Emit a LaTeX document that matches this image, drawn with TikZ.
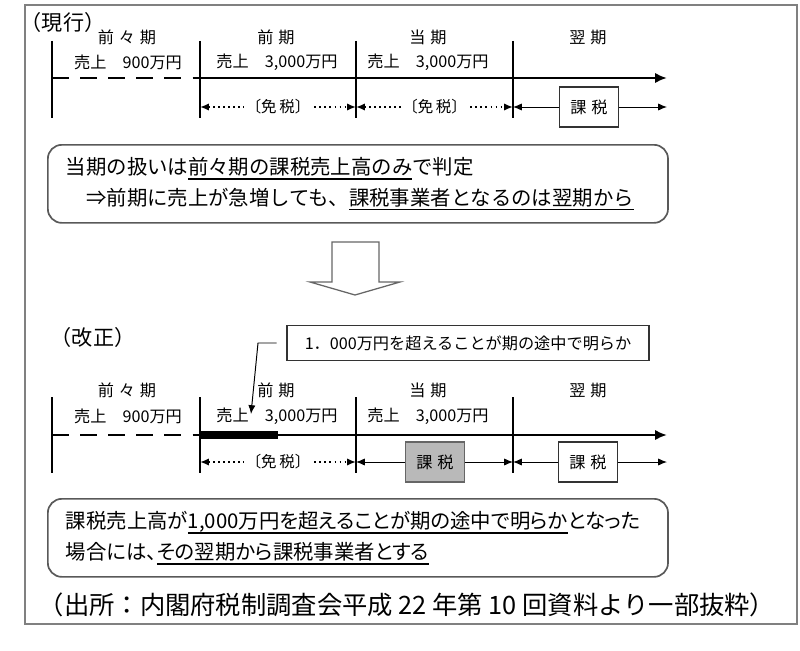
\documentclass[tikz,border=0pt]{standalone}
\usepackage{fontspec}
\setmainfont{Noto Sans CJK JP}
\newfontfamily\propfont[RawFeature=+palt]{Noto Sans CJK JP}
\usepackage{tikz}
\usetikzlibrary{arrows.meta, positioning, calc}

% underline at a fixed depth
\newcommand{\undl}[1]{\setbox0=\hbox{#1}\rlap{\rule[-0.25em]{\wd0}{0.8pt}}\box0}
\newcommand{\pgap}{\hspace{0.3em}}

\tikzstyle{outerframe} = [draw=black!50, line width=1.3pt]
\tikzstyle{heading} = [inner sep=0pt, font=\fontsize{15}{17}\selectfont]
\tikzstyle{period} = [inner sep=0pt, font=\fontsize{11.5}{13}\selectfont]
\tikzstyle{bar} = [line width=2pt]
\tikzstyle{timeline} = [line width=1.9pt, -{Latex[length=3mm, width=2.6mm]}]
\tikzstyle{pastline} = [line width=1.9pt, dash pattern=on 12pt off 8pt]
\tikzstyle{exempt} = [line width=1.2pt, dash pattern=on 1.3pt off 2.3pt,
  {Latex[length=2.2mm, width=1.8mm]}-{Latex[length=2.2mm, width=1.8mm]}]
\tikzstyle{exemptname} = [fill=white, inner sep=1pt, font=\fontsize{11}{13}\selectfont]
\tikzstyle{arrow} = [line width=0.7pt, -{Latex[length=2.2mm, width=1.8mm]}]
\tikzstyle{taxbox} = [rectangle, draw=black!80, line width=0.8pt, fill=white,
  minimum width=1.47cm, minimum height=1cm, font=\fontsize{11.5}{13}\selectfont]
\tikzstyle{note} = [rectangle, rounded corners=3.5mm, draw=black!65, line width=1.2pt,
  anchor=north west, minimum width=15.5cm, minimum height=1.95cm,
  text width=14.6cm, inner xsep=0.45cm, align=left]
\tikzstyle{callout} = [rectangle, draw=black!80, line width=0.8pt,
  minimum width=9.05cm, minimum height=0.875cm, font=\fontsize{11.5}{13}\selectfont]

\begin{document}
\begin{tikzpicture}[x=0.025cm, y=-0.025cm]
\useasboundingbox (0,0) rectangle (800,650);
\draw[outerframe] (25,5) rectangle (797,624);

% current rule
\node[heading] (current) at (63,22) {（現行）};
\foreach \x [count=\i] in {52,200,356,513} {
  \draw[bar] (\x,41) -- (\x,118);
  \coordinate (nt\i) at (\x,78);
  \coordinate (nl\i) at (\x,107);
}
\coordinate (nt5) at (667,78);
\coordinate (nl5) at (667,107);

\node[period] (npp) at (127,37) {前\pgap 々\pgap 期};
\node[period] (npps) at (128,62) {売上　900万円};
\node[period] (nprev) at (276,37) {前\pgap 期};
\node[period] (nprevs) at (277,62) {売上　3,000万円};
\node[period] (ncur) at (428,37) {当\pgap 期};
\node[period] (ncurs) at (428,62) {売上　3,000万円};
\node[period] (nnext) at (588,37) {翌\pgap 期};

\draw[pastline] (nt1) -- (nt2);
\draw[timeline] (nt2) -- (nt5);
\draw[exempt] (nl2) -- node[exemptname] (nfree1) {〔免\,税〕} (nl3);
\draw[exempt] (nl3) -- node[exemptname] (nfree2) {〔免\,税〕} (nl4);
\node[taxbox] (ntax) at (589,107) {課\pgap 税};
\draw[arrow] (ntax.west) -- (nl4);
\draw[arrow] (ntax.east) -- (nl5);

\node[note, font=\fontsize{14.5}{22}\selectfont] (rule) at (47,144)
  {当期の扱いは\undl{前々期の課税売上高のみ}で判定\\
   \hspace*{1em}⇒前期に売上が急増しても、\undl{課税事業者となるのは翌期から}};

% big down arrow
\draw[draw=black!60, fill=white, line width=0.9pt]
  (332,242) -- (379,242) -- (379,282) -- (400,282) -- (355,295)
  -- (310,282) -- (332,282) -- cycle;

% revised rule
\node[heading] (revised) at (93,337) {（改正）};
\foreach \x [count=\i] in {52,200,356,513} {
  \draw[bar] (\x,397) -- (\x,473);
  \coordinate (rt\i) at (\x,435);
  \coordinate (rl\i) at (\x,462);
}
\coordinate (rt5) at (667,435);
\coordinate (rl5) at (667,462);
\coordinate (rthick) at (278,435);

\node[period] (rpp) at (127,390) {前\pgap 々\pgap 期};
\node[period] (rpps) at (128,416) {売上　900万円};
\node[period] (rprev) at (276,390) {前\pgap 期};
\node[period] (rprevs) at (277,416) {売上　3,000万円};
\node[period] (rcur) at (428,390) {当\pgap 期};
\node[period] (rcurs) at (428,416) {売上　3,000万円};
\node[period] (rnext) at (588,390) {翌\pgap 期};

\node[callout] (reveal) at (468,343) {1．000万円を超えることが期の途中で明らか};
\coordinate (kink) at (258,343);
\coordinate (hit) at (251,414);
\draw[arrow, shorten <=7pt] (reveal.west) -- (kink) -- (hit);

\draw[pastline] (rt1) -- (rt2);
\draw[timeline] (rt2) -- (rt5);
\draw[line width=5pt] (rt2) -- (rthick);
\draw[exempt] (rl2) -- node[exemptname] (rfree) {〔免\,税〕} (rl3);
\node[taxbox, fill=gray!55, draw=black!60] (rgray) at (435,462) {課\pgap 税};
\draw[arrow] (rgray.west) -- (rl3);
\draw[arrow] (rgray.east) -- (rl4);
\node[taxbox] (rtax) at (588,462) {課\pgap 税};
\draw[arrow] (rtax.west) -- (rl4);
\draw[arrow] (rtax.east) -- (rl5);

\node[note, font=\propfont\fontsize{14.5}{22}\selectfont] (amend) at (47,498)
  {課税売上高が\undl{1,000万円を超えることが期の途中で明らか}となった\\
   場合には、\undl{その翌期から課税事業者とする}};

\node[inner sep=0pt, font=\fontsize{18}{21}\selectfont] (source) at (407,605)
  {（出所：内閣府税制調査会平成 22 年第 10 回資料より一部抜粋）};
\end{tikzpicture}
\end{document}
